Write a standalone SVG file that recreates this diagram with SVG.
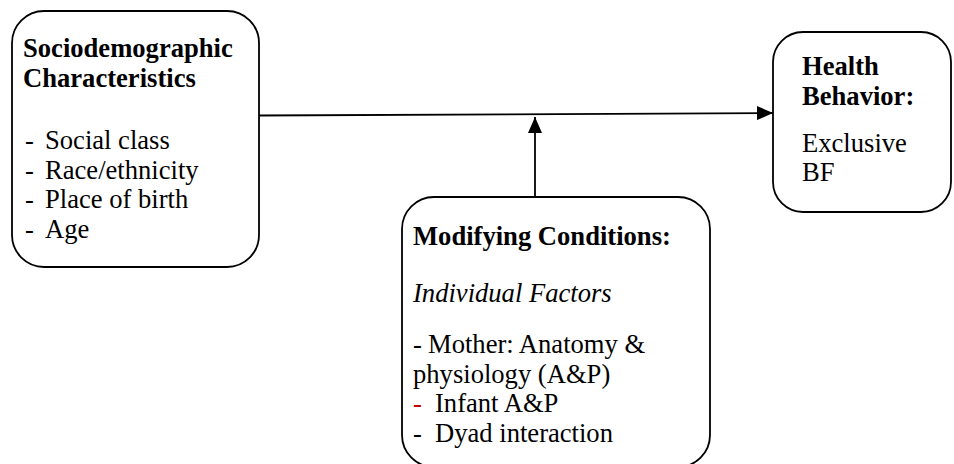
<svg xmlns="http://www.w3.org/2000/svg" width="954" height="464" viewBox="0 0 954 464">
<style>
.box{fill:#fff;stroke:#000;stroke-width:1.8}
text{font-family:"Liberation Serif","Times New Roman",serif;font-size:26.6px;fill:#000}
.b{font-weight:bold}
.i{font-style:italic}
.red{fill:#c00000}
.line{stroke:#000;stroke-width:1.8;fill:none}
</style>
<defs>
<marker id="ah" viewBox="0 0 16 14" refX="16" refY="7" markerWidth="16" markerHeight="14" markerUnits="userSpaceOnUse" orient="auto">
<path d="M0,0 L16,7 L0,14 Z" fill="#000"/>
</marker>
</defs>
<rect width="954" height="464" fill="#fff"/>
<g id="connectors">
<line class="line" x1="259" y1="115.5" x2="773" y2="113" marker-end="url(#ah)"/>
<line class="line" x1="535" y1="197" x2="535" y2="117" marker-end="url(#ah)"/>
</g>
<g id="sociodemographic">
<rect class="box" x="12" y="11" width="247" height="256" rx="32" ry="32"/>
<text class="b" x="23" y="57">Sociodemographic</text>
<text class="b" x="23" y="87">Characteristics</text>
<text x="25" y="149">-</text><text x="45" y="149">Social class</text>
<text x="25" y="179">-</text><text x="45" y="179">Race/ethnicity</text>
<text x="25" y="208">-</text><text x="45" y="208">Place of birth</text>
<text x="25" y="238">-</text><text x="45" y="238">Age</text>
</g>
<g id="health-behavior">
<rect class="box" x="773" y="32" width="178" height="180" rx="30" ry="30"/>
<text class="b" x="802" y="75">Health</text>
<text class="b" x="802" y="105">Behavior:</text>
<text x="802" y="152">Exclusive</text>
<text x="802" y="181">BF</text>
</g>
<g id="modifying-conditions">
<rect class="box" x="402" y="197" width="308" height="270" rx="32" ry="32"/>
<text class="b" x="413" y="245">Modifying Conditions:</text>
<text class="i" x="413" y="302">Individual Factors</text>
<text x="413" y="353">-</text><text x="428" y="353">Mother: Anatomy &amp;</text>
<text x="413" y="383">physiology (A&amp;P)</text>
<text class="red" x="413" y="412">-</text><text x="435" y="412">Infant A&amp;P</text>
<text x="413" y="442">-</text><text x="435" y="442">Dyad interaction</text>
</g>
</svg>
